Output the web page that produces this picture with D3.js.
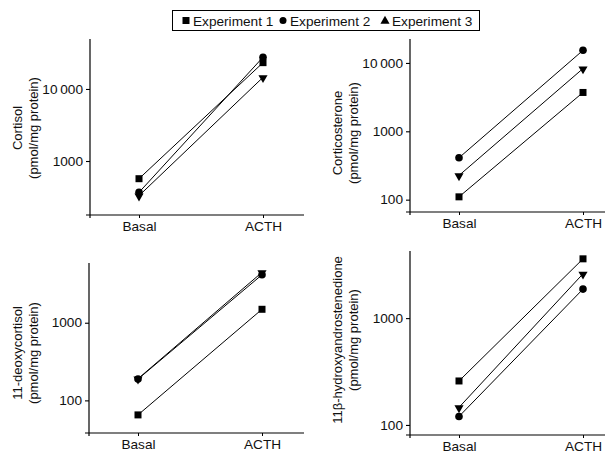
<!DOCTYPE html>
<html><head><meta charset="utf-8">
<script src="https://cdn.jsdelivr.net/npm/d3@7/dist/d3.min.js"></script>
<style>body{margin:0;background:#fff;} text{font-family:"Liberation Sans",Arial,sans-serif;fill:#111;}</style>
</head><body><svg id="c" width="606" height="456"></svg>
<script>
const conditions = ["Basal", "ACTH"];
const seriesNames = ["Experiment 1", "Experiment 2", "Experiment 3"];
const steroidLabels = ["Cortisol", "Corticosterone", "11-deoxycortisol", "11β-hydroxyandrostenedione"];
// values [Basal, ACTH] per experiment
const cortisol = [[568, 23200], [367, 27600], [330, 14500]];
const corticosterone = [[110, 3700], [410, 15300], [226, 8280]];
const deoxycortisol = [[65, 1490], [188, 4150], [190, 4460]];
const hydroxyandrostenedione = [[258, 3590], [120, 1870], [146, 2600]];
const cortisolTicks = [1000, 10000];
const corticosteroneTicks = [100, 1000, 10000];
const deoxycortisolTicks = [100, 1000];
const hydroxyTicks = [100, 1000];

const SX = 1.05;
const FS = 13;
const svg = d3.select("#c");
const fmt = v => v >= 10000 ? d3.format(",")(v).replace(",", "\u2009") : String(v);

function htext(g, x, y, s, anchor) {
  return g.append("text").attr("transform", `translate(${x},${y}) scale(${SX},1)`)
    .attr("text-anchor", anchor || "start").attr("font-size", FS).text(s);
}

const panels = [
  {data: cortisol, ticks: cortisolTicks, label: steroidLabels[0], x0: 90, x1: 304, y0: 215, y1: 39, dom: [178, 49400], lx: 17, ly: 128},
  {data: corticosterone, ticks: corticosteroneTicks, label: steroidLabels[1], x0: 410, x1: 605, y0: 212, y1: 39, dom: [66, 22400], lx: 337, ly: 133},
  {data: deoxycortisol, ticks: deoxycortisolTicks, label: steroidLabels[2], x0: 89, x1: 304, y0: 433, y1: 263, dom: [38, 5880], lx: 17, ly: 353},
  {data: hydroxyandrostenedione, ticks: hydroxyTicks, label: steroidLabels[3], x0: 410, x1: 605, y0: 435, y1: 251, dom: [80.5, 4250], lx: 337, ly: 340}
];

function marker(g, i, x, y) {
  if (i === 0) g.append("rect").attr("x", x - 3.5).attr("y", y - 3.5).attr("width", 7).attr("height", 7).attr("fill", "#000");
  else if (i === 1) g.append("circle").attr("cx", x).attr("cy", y).attr("r", 3.8).attr("fill", "#000");
  else g.append("path").attr("d", d3.symbol(d3.symbolTriangle, 36)()).attr("transform", `translate(${x},${y + 0.5}) rotate(180)`).attr("fill", "#000");
}

panels.forEach(p => {
  const g = svg.append("g");
  const x = d3.scalePoint().domain(conditions).range([p.x0 + 49, p.x0 + 173]);
  const y = d3.scaleLog().domain(p.dom).range([p.y0, p.y1]);
  // axes
  g.append("line").attr("x1", p.x0 - 4).attr("x2", p.x1).attr("y1", p.y0).attr("y2", p.y0).attr("stroke", "#000").attr("stroke-width", 1.2);
  g.append("line").attr("x1", p.x0).attr("x2", p.x0).attr("y1", p.y1).attr("y2", p.y0 + 3).attr("stroke", "#000").attr("stroke-width", 1.2);
  const ya = d3.axisLeft(y).tickValues(p.ticks).tickFormat(fmt).tickSize(4).tickPadding(3);
  const yg = g.append("g").attr("transform", `translate(${p.x0},0)`).call(ya);
  yg.select(".domain").remove();
  yg.selectAll("line").attr("stroke-width", 1.1);
  yg.selectAll("text").each(function() {
    const t = d3.select(this);
    const xx = +t.attr("x");
    t.attr("x", xx / SX).attr("transform", `scale(${SX},1)`);
  }).attr("font-size", FS).style("font-family", "Liberation Sans, Arial, sans-serif").attr("fill", "#111");
  const xa = d3.axisBottom(x).tickSize(3).tickPadding(4);
  const xg = g.append("g").attr("transform", `translate(0,${p.y0})`).call(xa);
  xg.select(".domain").remove();
  xg.selectAll("text").each(function() {
    d3.select(this).attr("transform", `scale(${SX},1)`);
  }).attr("font-size", FS).style("font-family", "Liberation Sans, Arial, sans-serif").attr("fill", "#111");
  // y label
  const t = g.append("text").attr("transform", `translate(${p.lx},${p.ly}) rotate(-90)`).attr("text-anchor", "middle").attr("font-size", FS);
  t.append("tspan").attr("x", 0).attr("dy", "0.35em").text(p.label);
  t.append("tspan").attr("x", 0).attr("dy", "1.3em").text("(pmol/mg protein)");
  // series
  p.data.forEach((vals) => {
    const pts = vals.map((v, j) => [x(conditions[j]), y(v)]);
    g.append("path").attr("d", d3.line()(pts)).attr("stroke", "#000").attr("stroke-width", 1).attr("fill", "none");
  });
  p.data.forEach((vals, i) => {
    vals.forEach((v, j) => marker(g, i, x(conditions[j]), y(v)));
  });
});

// legend
const lg = svg.append("g");
lg.append("rect").attr("x", 172.5).attr("y", 10.5).attr("width", 307).attr("height", 20).attr("fill", "#fff").attr("stroke", "#000");
const lx = [186, 283, 385];
seriesNames.forEach((s, i) => {
  if (i === 0) lg.append("rect").attr("x", lx[i] - 3.5).attr("y", 17).attr("width", 7).attr("height", 7).attr("fill", "#000");
  else if (i === 1) lg.append("circle").attr("cx", lx[i]).attr("cy", 20.5).attr("r", 3.5).attr("fill", "#000");
  else lg.append("path").attr("d", d3.symbol(d3.symbolTriangle, 36)()).attr("transform", `translate(${lx[i]},21)`).attr("fill", "#000");
  htext(lg, lx[i] + 7, 25.5, s);
});
</script></body></html>
